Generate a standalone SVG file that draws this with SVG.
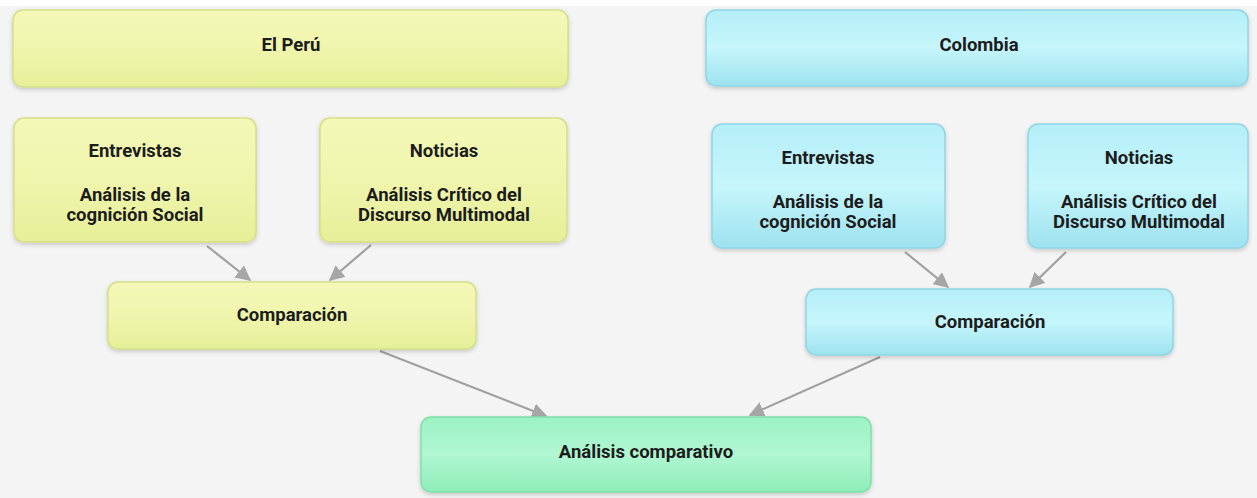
<svg xmlns="http://www.w3.org/2000/svg" width="1257" height="498" viewBox="0 0 1257 498">
<defs>
<linearGradient id="gy" x1="0" y1="0" x2="0" y2="1"><stop offset="0" stop-color="#f4f8b8"/><stop offset="0.5" stop-color="#f0f5ad"/><stop offset="1" stop-color="#e6ef98"/></linearGradient>
<linearGradient id="gc" x1="0" y1="0" x2="0" y2="1"><stop offset="0" stop-color="#b5eef8"/><stop offset="0.5" stop-color="#c6f6fc"/><stop offset="1" stop-color="#9de2ef"/></linearGradient>
<linearGradient id="gg" x1="0" y1="0" x2="0" y2="1"><stop offset="0" stop-color="#9cf2c4"/><stop offset="0.5" stop-color="#b0f7d2"/><stop offset="1" stop-color="#8eecb8"/></linearGradient>
<filter id="sh" x="-5%" y="-10%" width="110%" height="125%"><feDropShadow dx="0" dy="2" stdDeviation="2" flood-color="#000" flood-opacity="0.18"/></filter>
<marker id="ah" viewBox="0 0 10 10" refX="9" refY="5" markerWidth="7" markerHeight="7" orient="auto" markerUnits="strokeWidth"><path d="M0,0 L10,5 L0,10 z" fill="#a6a6a6"/></marker>
</defs>
<style>
.y{fill:url(#gy);stroke:#d5df85;stroke-width:1.5;filter:url(#sh)}
.c{fill:url(#gc);stroke:#8ed6e6;stroke-width:1.5;filter:url(#sh)}
.g{fill:url(#gg);stroke:#7fe0a8;stroke-width:1.5;filter:url(#sh)}
text{font-family:Roboto,"Liberation Sans",sans-serif;font-weight:bold;font-size:18.5px;fill:#1c1c1c;text-anchor:middle}
.e{stroke:#a0a0a0;stroke-width:2.2;fill:none;marker-end:url(#ah)}
</style>
<rect x="0" y="0" width="1257" height="498" fill="#f4f4f4"/>
<rect x="0" y="0" width="1257" height="6" fill="#ffffff"/>
<g id="edges">
<line class="e" x1="207" y1="246" x2="250" y2="280"/>
<line class="e" x1="371" y1="245" x2="330" y2="280"/>
<line class="e" x1="380" y1="351" x2="546" y2="416"/>
<line class="e" x1="880" y1="357" x2="750" y2="415"/>
<line class="e" x1="905" y1="252" x2="948" y2="287"/>
<line class="e" x1="1066" y1="252" x2="1030" y2="287"/>
</g>
<g id="peru"><rect class="y" x="13" y="10" width="555" height="77" rx="10"/><text x="291" y="51">El Perú</text></g>
<g id="colombia"><rect class="c" x="706" y="10" width="542" height="76" rx="10"/><text x="979" y="51">Colombia</text></g>
<g id="pe-entrevistas"><rect class="y" x="14" y="118" width="242" height="124" rx="10"/><text x="135" y="157">Entrevistas</text><text x="135" y="201">Análisis de la</text><text x="135" y="221">cognición Social</text></g>
<g id="pe-noticias"><rect class="y" x="320" y="118" width="247" height="124" rx="10"/><text x="444" y="157">Noticias</text><text x="444" y="201">Análisis Crítico del</text><text x="444" y="221">Discurso Multimodal</text></g>
<g id="pe-comparacion"><rect class="y" x="108" y="282" width="368" height="67" rx="10"/><text x="292" y="321">Comparación</text></g>
<g id="co-entrevistas"><rect class="c" x="712" y="124" width="233" height="124" rx="10"/><text x="828" y="164">Entrevistas</text><text x="828" y="208">Análisis de la</text><text x="828" y="228">cognición Social</text></g>
<g id="co-noticias"><rect class="c" x="1028" y="124" width="220" height="124" rx="10"/><text x="1139" y="164">Noticias</text><text x="1139" y="208">Análisis Crítico del</text><text x="1139" y="228">Discurso Multimodal</text></g>
<g id="co-comparacion"><rect class="c" x="806" y="289" width="367" height="66" rx="10"/><text x="990" y="328">Comparación</text></g>
<g id="analisis"><rect class="g" x="421" y="417" width="450" height="75" rx="10"/><text x="646" y="458">Análisis comparativo</text></g>
</svg>
